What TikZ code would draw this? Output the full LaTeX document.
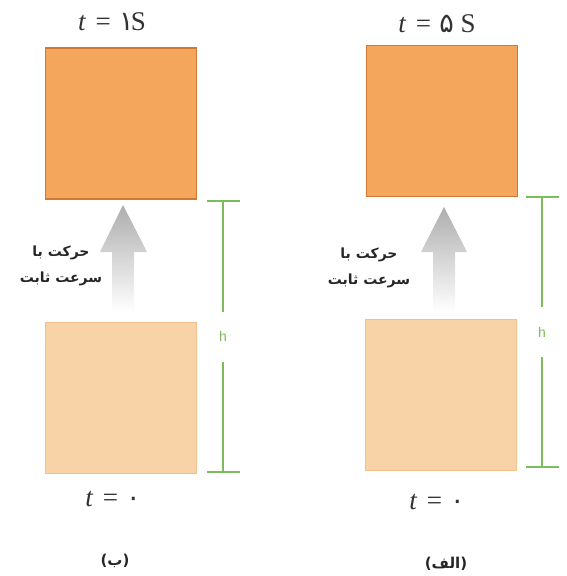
\documentclass[tikz,border=0pt]{standalone}
\usepackage{fontspec}
\setmainfont{Liberation Serif}
\newfontfamily\arabicfont[Script=Arabic]{DejaVu Sans}
\newfontfamily\hfont{Liberation Sans}
\TeXXeTstate=1
\usepackage{tikz}
\usetikzlibrary{arrows.meta, positioning}

\definecolor{boxorange}{HTML}{F4A65C}
\definecolor{boxedge}{HTML}{D27833}
\definecolor{startfill}{HTML}{F8D3A8}
\definecolor{startedge}{HTML}{F1C08E}
\definecolor{dimgreen}{HTML}{7DBB5B}

\newcommand{\tsym}{\textit{t}\hspace{0.35em}=\hspace{0.3em}}

\tikzset{
  movedbox/.style={draw=boxedge, line width=1.8pt, fill=boxorange, minimum width=151pt, minimum height=151pt, inner sep=0pt},
  startbox/.style={draw=startedge, line width=1pt, fill=startfill, minimum width=151pt, minimum height=151pt, inner sep=0pt},
  dimline/.style={draw=dimgreen, line width=1.8pt, {Bar[width=33pt]}-{Bar[width=33pt]}},
  hlabel/.style={fill=white, text=dimgreen, font=\hfont\fontsize{14}{15}\selectfont, minimum height=50pt, inner sep=1pt},
  timelabel/.style={font=\fontsize{27}{30}\selectfont, text=black!80},
  motiontext/.style={font=\arabicfont\bfseries\fontsize{14}{26}\selectfont, align=center, text=black!85},
  partlabel/.style={font=\arabicfont\bfseries\fontsize{15}{16}\selectfont, text=black!85},
  liftarrow/.style={top color=black!32, bottom color=white}
}

\begin{document}
\begin{tikzpicture}[x=1pt, y=-1pt]
	\useasboundingbox (0,0) rectangle (567,576);
	% Panel (b): left
	\node[movedbox] (topB) at (121,123.5){};
	\node[startbox] (startB) at (121,397.5){};
	\node[timelabel] (timeTopB) at (112,22){\tsym{\arabicfont ۱}\hspace{-0.1em}S};
	\node[timelabel] (timeStartB) at (113,499){\tsym{\arabicfont ۰}};
	\node[partlabel] (partB) at (115,561){\beginR(ب)\endR};
	\node[motiontext] (moveB) at (61,266){\beginR حرکت با\endR\\\beginR سرعت ثابت\endR};
	\shade[liftarrow] (123,205) -- (147,252) -- (134,252) -- (134,312) -- (112,312) -- (112,252) -- (100,252) -- cycle;
	\coordinate (hTopB) at (223,200);
	\coordinate (hBotB) at (223,473);
	\draw[dimline] (hTopB) -- (hBotB) node[midway, hlabel]{h};
	% Panel (alef): right
	\node[movedbox] (topA) at (442,121){};
	\node[startbox] (startA) at (441,395){};
	\node[timelabel] (timeTopA) at (437,24){\tsym{\arabicfont ۵} S};
	\node[timelabel] (timeStartA) at (437,502){\tsym{\arabicfont ۰}};
	\node[partlabel] (partA) at (446,564){\beginR(الف)\endR};
	\node[motiontext] (moveA) at (369,268){\beginR حرکت با\endR\\\beginR سرعت ثابت\endR};
	\shade[liftarrow] (444,207) -- (467,252) -- (455,252) -- (455,312) -- (433,312) -- (433,252) -- (421,252) -- cycle;
	\coordinate (hTopA) at (542,196);
	\coordinate (hBotA) at (542,468);
	\draw[dimline] (hTopA) -- (hBotA) node[midway, hlabel]{h};
\end{tikzpicture}
\end{document}
